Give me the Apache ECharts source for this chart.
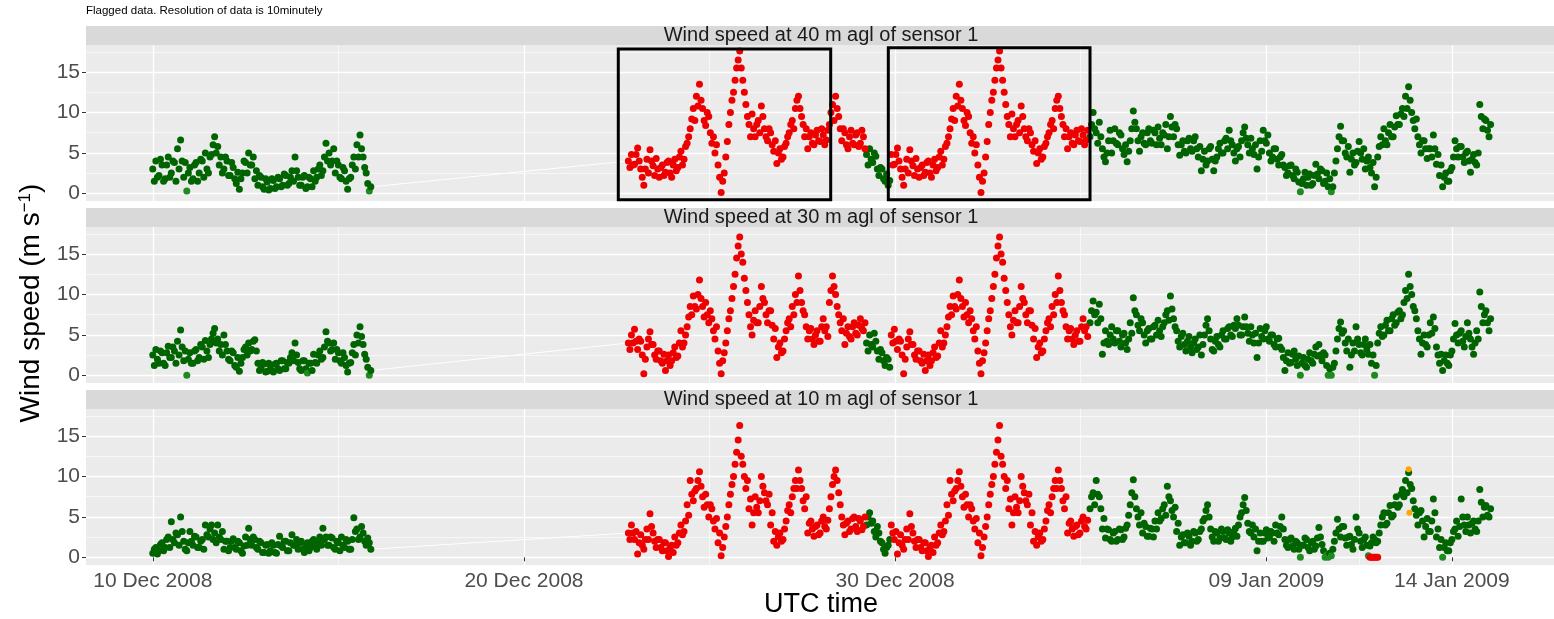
<!DOCTYPE html>
<html><head><meta charset="utf-8">
<script src="https://cdn.jsdelivr.net/npm/echarts@6/dist/echarts.min.js"></script>
<style>html,body{margin:0;padding:0;background:#fff}#c{width:1554px;height:619px}</style>
</head><body><div id="c"></div><script>
// ---------------- DATA ----------------
const chartNote = 'Flagged data. Resolution of data is 10minutely';
const panelTitles = ['Wind speed at 40 m agl of sensor 1','Wind speed at 30 m agl of sensor 1','Wind speed at 10 m agl of sensor 1'];
const xTitle = 'UTC time';
const xTickDates = ['2008-12-10 00:00','2008-12-20 00:00','2008-12-30 00:00','2009-01-09 00:00','2009-01-14 00:00'];
const xTickLabels = ['10 Dec 2008','20 Dec 2008','30 Dec 2008','09 Jan 2009','14 Jan 2009'];
const xMinorDates = ['2008-12-15 00:00','2008-12-25 00:00','2009-01-04 00:00','2009-01-11 12:00'];
const xRange = ['2008-12-08 04:50','2009-01-16 18:00'];
const yTicks = [0,5,10,15];
const yMinor = [2.5,7.5,12.5,17.5];
const yRange = [-0.95,18.35];
// each segment: "a" values at start + 2h*i, "b" values at start + 2h*i + 1h
const stepHours = 2;
const segAStart = '2008-12-10 00:00';
const redBlockStart = '2008-12-22 19:30';
const redExtraStart = '2008-12-28 05:30';
const greenMidStart = '2008-12-29 05:30';
const repeatOffsetDays = 7;
const greenEndStart = '2009-01-04 06:00';
// highlight boxes on the 40 m panel: [start, end, yLow, yHigh]
const boxes40 = [['2008-12-22 13:00','2008-12-28 06:20',-0.8,17.85],['2008-12-29 19:35','2009-01-04 06:00',-0.8,18.0]];

// 40 m
const segA40 = [3.0,4.0,2.2,3.5,1.8,4.5,2.5,3.8,5.5,6.6,2.0,0.3,3.2,1.8,3.8,2.5,4.0,5.0,2.5,4.8,7.0,5.8,4.5,3.0,4.0,2.2,3.2,1.2,0.5,2.5,3.8,5.0,3.5,1.8,1.0,2.0,0.5,1.4,0.6,1.6,0.8,1.8,1.0,2.2,1.2,2.8,4.5,2.0,1.0,2.2,0.8,1.8,2.8,2.0,3.5,2.8,6.2,5.0,4.0,2.5,3.5,1.8,2.8,0.5,2.0,4.5,6.0,7.2,4.5,2.5,0.3];
const segA40b = [1.5,2.0,4.2,1.5,3.5,2.0,4.0,1.5,3.0,4.0,3.8,2.5,1.5,3.5,1.5,4.2,2.0,3.0,4.5,6.0,5.0,3.5,2.5,4.5,2.2,3.8,1.8,2.6,1.8,4.0,2.5,3.5,4.5,2.8,2.2,0.8,1.8,0.4,1.8,0.6,2.0,0.8,2.4,1.0,2.0,1.5,2.8,1.0,2.0,0.6,2.0,0.8,1.5,3.0,2.2,4.5,4.0,3.5,5.5,4.0,2.0,3.2,1.5,1.8,3.5,3.0,4.5,5.5,3.2,1.2,0.8];
const redBlock40 = [4.0,4.8,3.6,5.6,3.0,1.0,4.2,5.4,3.4,4.3,2.0,3.5,2.6,4.0,2.0,4.2,3.2,5.2,4.2,6.2,8.0,10.5,12.0,13.5,10.5,8.4,9.5,6.2,5.0,3.5,0.1,2.5,6.4,10.0,12.5,15.5,17.6,14.0,11.0,8.5,9.8,7.0,9.0,10.8,8.0,6.5,7.5,5.2,3.7,5.5,4.5,6.2,7.5,9.0,10.5,12.0,9.5,7.0,5.5,7.5,6.0,7.8,6.4,7.2,6.6];
const redBlock40b = [3.2,3.5,4.8,4.0,2.0,3.0,2.5,4.0,2.2,3.0,3.2,2.2,3.8,2.5,3.5,2.8,4.5,3.5,5.8,7.0,9.2,9.0,10.8,11.5,9.0,10.0,7.5,7.0,6.0,2.0,1.5,4.5,8.5,11.5,14.0,16.5,15.5,12.5,9.5,7.0,8.0,8.5,7.5,9.5,7.0,8.0,6.0,6.5,5.0,4.2,5.8,7.0,8.5,8.0,11.5,10.5,8.5,8.0,7.0,6.2,7.2,6.5,8.0,6.0,7.8];
const redExtra40 = [8.5,11.0,12.0,9.5,6.5,7.5,5.5,7.8,6.0,7.5,6.2,7.0];
const redExtra40b = [10.0,9.0,10.5,8.0,8.0,6.0,7.0,6.2,7.2,5.8,7.8,5.5];
const greenMid40 = [4.8,5.5,3.8,4.6,2.2,3.0,1.5,1.0];
const greenMid40b = [3.5,4.2,5.0,3.0,3.2,1.8,2.4,1.6];
const greenEnd40 = [7.0,10.0,7.5,8.8,5.5,3.9,6.5,5.0,8.0,6.0,7.2,4.8,3.9,6.5,10.2,8.0,5.2,7.5,6.0,8.0,6.2,7.5,8.2,6.0,7.2,5.5,9.5,7.0,8.0,4.7,6.5,5.0,6.8,5.2,7.0,4.5,2.8,5.2,4.0,5.8,2.8,4.5,6.2,5.0,6.8,7.8,6.0,4.0,5.8,6.5,8.2,6.0,6.8,4.8,3.0,6.5,7.8,6.2,5.0,4.5,5.5,3.5,4.8,3.2,2.5,3.5,1.8,2.6,0.2,1.8,1.0,2.4,1.2,3.6,1.8,2.8,1.5,0.8,0.2,2.5,5.5,8.3,6.5,4.5,2.6,5.0,3.8,6.4,4.2,3.0,4.5,2.5,0.8,4.5,7.0,8.0,6.0,8.5,7.0,9.6,8.5,10.5,12.0,13.2,10.0,8.0,7.0,5.0,6.5,4.3,5.5,7.2,3.6,2.2,0.8,2.5,1.5,3.2,6.5,4.5,5.8,3.8,5.2,2.6,4.8,3.5,11.0,8.0,9.0,7.0];
const greenEnd40b = [8.5,8.0,6.2,7.0,4.5,5.0,7.8,6.5,6.2,7.5,5.5,6.0,5.2,8.0,8.8,6.5,7.0,6.2,7.5,6.5,7.8,6.0,6.8,7.5,8.5,7.0,8.2,8.5,6.0,6.0,5.2,6.5,5.5,6.5,5.5,5.8,4.2,3.5,5.5,4.2,4.0,5.5,5.0,6.5,5.5,6.5,5.0,5.5,4.5,7.5,6.8,5.0,5.5,6.0,4.5,5.2,6.5,7.2,4.0,5.5,4.2,4.5,3.5,2.2,3.4,2.2,3.0,1.4,1.2,2.6,2.0,1.0,2.2,2.4,3.0,1.2,2.5,1.8,0.8,4.0,7.0,6.5,5.0,5.8,4.2,3.5,5.2,5.0,5.5,4.0,3.2,3.8,2.0,5.8,6.0,6.5,7.5,7.0,8.2,8.5,9.8,9.5,10.5,11.5,9.0,9.2,6.0,6.5,5.5,5.5,4.5,5.5,4.8,3.5,2.0,1.5,2.8,4.5,5.5,5.8,4.5,5.0,4.0,4.2,3.8,5.0,9.5,9.2,7.8,8.5];

// 30 m
const segA30 = [2.5,3.2,1.5,2.8,1.2,3.6,2.2,3.0,4.2,5.6,1.8,0.0,2.8,1.5,3.2,2.2,3.5,4.3,2.2,4.5,5.8,4.5,3.8,5.0,3.0,1.8,2.8,1.0,0.5,2.2,3.5,4.0,3.2,4.4,1.5,0.8,1.4,0.5,1.2,0.4,1.5,0.6,1.8,0.8,1.5,2.8,4.0,1.6,0.6,1.8,0.3,1.5,2.6,1.5,3.0,2.2,5.4,4.0,3.2,2.0,2.8,1.5,2.2,0.4,1.6,3.8,5.0,6.0,3.8,2.0,0.0];
const segA30b = [1.2,2.0,3.0,1.5,2.8,2.2,3.5,1.5,2.5,3.5,3.0,2.0,1.5,3.0,1.8,3.8,2.0,3.0,3.8,5.2,4.0,3.0,2.5,3.8,2.0,3.0,1.2,2.2,1.5,3.2,2.5,3.0,4.2,3.0,0.6,1.6,0.4,1.5,0.6,1.4,0.8,1.8,0.8,1.6,2.2,1.8,2.5,0.8,1.8,0.8,1.5,0.6,1.6,2.5,2.0,3.5,4.2,3.0,4.0,3.2,1.8,2.8,1.2,1.5,2.8,2.5,4.0,4.8,2.6,1.0,0.6];
const redBlock30 = [4.0,5.0,5.7,3.2,4.2,0.2,3.5,5.4,3.8,2.0,3.0,1.5,0.6,2.5,1.8,3.5,2.4,5.5,4.0,6.0,8.5,9.8,8.2,11.8,8.5,9.0,6.5,7.0,4.5,3.0,0.2,2.8,5.5,8.0,11.0,14.5,17.1,14.0,10.5,7.5,5.0,8.0,6.5,11.0,9.0,6.5,8.0,4.5,2.2,4.0,3.0,5.5,7.0,8.5,10.0,12.3,9.0,7.5,4.5,5.8,3.8,5.5,4.2,7.0,6.0];
const redBlock30b = [3.2,4.0,4.2,4.5,2.5,2.0,4.5,3.8,2.5,3.0,1.8,2.6,1.8,1.2,2.8,2.2,4.0,3.5,5.0,7.2,7.5,8.5,10.0,9.5,7.2,7.5,8.0,5.5,6.0,1.5,1.8,4.0,7.0,9.5,12.5,16.0,15.0,12.0,9.0,6.0,6.8,6.5,8.5,9.5,7.5,8.0,6.2,5.8,3.5,2.8,4.5,6.5,6.0,7.5,9.0,10.5,8.0,6.0,5.5,4.5,5.0,4.2,6.0,5.5,4.8];
const redExtra30 = [9.0,12.3,10.0,7.5,5.5,3.8,6.0,4.5,6.5,5.0,7.0,5.5];
const redExtra30b = [10.5,11.0,8.5,6.5,7.0,5.2,4.8,6.0,5.2,6.2,5.8,6.5];
const greenMid30 = [4.0,5.0,3.5,4.2,2.0,2.8,1.2,2.0];
const greenMid30b = [3.0,3.8,5.2,3.0,3.2,1.8,2.2,1.0];
const greenEnd30 = [6.5,9.2,7.8,8.8,2.6,5.5,3.8,6.0,4.0,5.5,3.5,5.2,3.2,6.5,9.6,7.5,5.5,6.5,4.0,5.8,4.5,6.2,6.8,4.8,6.5,8.0,9.8,7.0,5.5,3.5,5.2,3.0,4.8,2.8,4.5,3.5,2.5,5.0,7.0,4.5,3.0,4.8,3.5,5.5,4.5,6.0,4.8,5.8,6.2,5.0,7.2,5.2,6.0,4.0,2.2,5.8,4.5,6.0,4.2,5.0,3.5,4.6,3.2,0.6,2.8,1.6,3.0,1.2,0.0,2.2,1.0,2.8,1.5,3.5,3.8,1.8,2.5,0.0,0.0,1.5,4.5,6.6,5.5,3.0,1.0,4.0,6.0,3.8,2.5,4.5,2.6,1.5,0.0,4.0,6.0,5.0,6.8,5.5,7.5,6.5,8.0,7.5,10.5,12.5,10.0,8.0,5.5,2.6,5.0,3.5,6.5,7.2,3.5,1.5,0.6,2.5,1.2,3.0,6.4,4.0,5.5,3.5,6.5,4.5,2.6,5.5,10.3,6.5,8.0,5.5];
const greenEnd30b = [8.0,7.5,6.5,7.0,4.0,4.2,5.0,4.5,5.5,4.2,5.0,4.0,4.5,5.2,8.0,6.2,7.0,5.0,5.5,4.5,6.0,5.0,5.5,6.0,7.5,6.8,8.2,6.0,4.2,4.8,3.8,4.2,3.5,4.0,3.2,5.0,3.8,6.2,5.5,3.2,4.2,3.8,5.0,4.5,5.8,5.0,6.2,7.0,5.0,6.0,6.0,4.2,5.0,5.2,4.0,4.8,5.5,4.5,5.0,3.8,4.5,3.5,2.2,1.8,1.5,2.6,2.0,2.4,1.5,1.2,2.0,1.8,2.6,2.4,2.5,2.8,1.2,0.8,1.0,3.0,5.8,5.2,4.0,4.5,2.5,3.0,4.5,2.8,3.8,3.2,3.8,2.5,1.2,5.2,4.8,6.2,5.5,7.0,6.2,7.8,7.0,9.0,9.5,11.0,8.5,7.0,4.5,4.0,3.8,5.0,5.2,5.8,2.5,2.6,1.8,1.5,2.5,4.5,5.0,5.2,4.2,4.8,5.2,3.5,4.0,4.5,8.5,7.5,6.5,7.0];

// 10 m
const segA10 = [0.5,1.2,0.8,1.8,1.2,2.5,4.4,1.8,2.8,5.0,2.0,0.8,3.2,1.5,2.5,1.2,2.2,4.0,2.5,4.0,3.0,4.0,2.2,1.0,2.0,1.2,2.3,1.0,1.8,0.5,2.5,3.6,1.5,2.2,1.0,1.8,0.6,1.6,0.8,1.5,0.5,2.6,1.2,2.0,0.8,2.8,1.5,1.0,2.0,0.6,1.8,1.2,2.2,1.0,2.5,3.6,2.5,1.5,2.4,1.0,1.8,2.5,1.2,2.0,1.0,4.9,3.5,2.5,3.0,1.5,1.8];
const segA10b = [1.0,0.4,1.6,0.8,2.2,1.2,2.2,3.0,1.5,3.2,1.0,1.8,2.0,2.6,1.2,2.0,1.0,2.8,3.5,2.2,1.8,2.5,3.2,2.0,0.8,2.0,1.2,2.0,0.8,1.4,1.5,2.2,2.5,1.2,2.0,0.6,1.5,0.5,1.8,0.6,1.6,1.4,2.0,0.8,1.8,1.5,2.2,1.8,1.0,1.5,0.8,2.0,1.4,2.0,1.5,2.2,1.5,2.5,1.2,2.0,0.8,1.5,2.2,1.0,2.2,3.2,2.2,3.8,2.0,2.4,1.0];
const redBlock10 = [3.0,4.0,2.2,0.4,2.8,1.0,3.5,5.4,3.0,1.2,2.2,0.8,1.8,0.1,1.5,2.5,1.8,4.0,3.2,6.5,9.5,7.0,8.5,10.6,7.5,7.8,5.0,6.0,3.5,1.8,0.2,2.5,5.0,7.8,10.0,13.0,16.3,11.5,8.5,6.0,4.0,7.5,5.5,10.0,8.0,6.5,4.0,2.0,1.5,3.0,2.2,4.5,6.5,7.5,9.5,10.8,8.5,6.0,3.0,4.5,2.6,4.0,3.0,5.0,3.5];
const redBlock10b = [2.2,3.0,3.2,1.8,1.5,2.2,2.2,3.8,2.0,2.2,1.2,1.8,0.8,1.2,0.6,1.5,3.0,2.8,4.5,5.2,7.8,8.2,9.5,8.8,6.2,6.5,6.5,4.5,4.8,3.0,1.2,3.8,6.5,9.0,11.5,14.5,12.5,10.0,9.5,7.2,5.5,6.2,7.0,8.8,7.0,7.8,5.5,3.2,2.5,2.0,3.5,5.8,5.5,8.5,8.5,9.5,7.0,7.5,4.2,3.5,3.8,2.8,4.5,3.8,4.6];
const redExtra10 = [6.0,9.0,10.8,8.0,5.0,2.8,4.5,3.5,5.0,3.2,4.5,3.8];
const redExtra10b = [7.5,10.0,9.5,6.5,4.0,4.2,3.2,4.8,3.8,4.8,3.4,5.0];
const greenMid10 = [4.0,5.5,4.5,2.5,3.0,1.8,0.5,1.5];
const greenMid10b = [5.0,4.2,3.2,3.8,2.0,1.0,1.2,2.2];
const greenEnd10 = [6.0,8.0,9.5,7.5,3.5,2.4,3.4,2.0,3.2,2.2,3.4,2.5,4.0,6.5,9.6,6.0,4.0,3.0,3.8,2.6,3.5,4.5,5.5,4.8,6.5,8.8,7.0,5.0,3.2,1.5,2.8,1.8,2.6,2.0,3.0,2.2,3.5,4.8,6.5,3.5,2.0,3.0,2.4,3.2,2.2,3.0,2.5,3.6,4.0,5.5,7.4,4.2,3.0,2.5,0.8,3.0,2.0,3.4,2.5,3.0,4.0,2.8,5.0,2.2,1.2,2.4,1.0,1.8,0.0,1.5,2.2,0.8,2.0,1.4,3.7,1.6,0.0,0.0,0.2,2.0,4.7,2.5,3.8,1.5,2.6,1.0,5.0,3.0,1.2,2.5,0.2,1.8,2.2,2.0,4.0,5.5,4.2,6.4,5.2,7.5,6.5,8.4,9.5,10.5,8.5,6.0,4.0,5.8,2.5,4.8,3.2,7.2,2.5,1.2,0.0,1.8,0.8,2.2,3.5,2.6,7.2,4.0,5.0,3.0,4.5,3.2,8.4,5.0,6.4,5.0];
const greenEnd10b = [7.5,6.5,7.8,6.0,4.8,3.5,2.2,3.0,2.0,3.5,2.2,3.6,5.2,8.0,7.5,5.0,5.5,4.2,2.6,3.6,2.5,3.5,4.5,6.0,5.2,7.5,5.8,6.2,4.2,2.5,1.8,3.0,1.5,3.2,2.0,3.2,4.5,5.8,5.0,2.5,3.2,2.0,3.5,2.4,3.4,2.0,3.2,2.6,5.0,6.5,5.8,3.2,4.0,3.5,2.0,2.0,3.0,2.4,3.2,2.0,3.0,3.8,3.5,1.5,2.2,1.4,2.0,1.0,1.5,2.4,1.2,1.8,1.0,2.4,2.5,0.8,0.3,0.5,1.0,3.0,3.5,3.8,2.4,2.5,1.6,2.2,3.5,2.0,2.2,1.5,1.4,2.5,1.8,3.0,5.0,4.0,5.5,5.0,6.5,6.2,7.8,7.5,8.0,9.0,7.0,5.2,5.5,4.5,3.8,3.2,4.5,5.5,3.5,2.2,1.2,0.8,1.8,3.2,4.5,3.8,5.0,3.2,4.0,4.2,3.5,4.5,6.8,6.2,5.2,6.0];
const redFlag10Times = ['2009-01-11 19:00','2009-01-11 20:00','2009-01-11 21:00','2009-01-11 22:00','2009-01-11 23:00','2009-01-12 00:00'];
const redFlag10Values = [0,0,0,0,0,0];
const orange10Times = ['2009-01-12 20:00','2009-01-12 20:30'];
const orange10Values = [10.9,5.5];

// ---------------- BUILD ----------------
const T = s => { const [d,h] = s.split(' '); const [Y,M,D] = d.split('-').map(Number); const [hh,mm] = h.split(':').map(Number); return Date.UTC(Y,M-1,D,hh,mm); };
const HR = 3600000;
const seg = (start, a, b, shiftDays) => {
  const t0 = T(start) + (shiftDays || 0) * 24 * HR, out = [];
  a.forEach((v, i) => { out.push([t0 + i*stepHours*HR, v]); out.push([t0 + i*stepHours*HR + HR, b[i]]); });
  return out;
};
const pairs = (ts, vs) => ts.map((t,i) => [T(t), vs[i]]);

const panels = [
  {segA: [segA40, segA40b], red: [redBlock40, redBlock40b], extra: [redExtra40, redExtra40b], mid: [greenMid40, greenMid40b], end: [greenEnd40, greenEnd40b], redFlag: [], orange: [], boxes: boxes40},
  {segA: [segA30, segA30b], red: [redBlock30, redBlock30b], extra: [redExtra30, redExtra30b], mid: [greenMid30, greenMid30b], end: [greenEnd30, greenEnd30b], redFlag: [], orange: [], boxes: []},
  {segA: [segA10, segA10b], red: [redBlock10, redBlock10b], extra: [redExtra10, redExtra10b], mid: [greenMid10, greenMid10b], end: [greenEnd10, greenEnd10b], redFlag: pairs(redFlag10Times, redFlag10Values), orange: pairs(orange10Times, orange10Values), boxes: []}
];

const FONT = 'Liberation Sans, Arial, sans-serif';
const W = 1554, LEFT = 86, TOP0 = 45, PH = 156, PSTEP = 182, DOT = 7;
const xTicks = xTickDates.map(T), xMinor = xMinorDates.map(T);
const xMin = T(xRange[0]), xMax = T(xRange[1]);

const grids = [], xAxes = [], yAxes = [], series = [], graphics = [];
panels.forEach((p, k) => {
  grids.push({left: LEFT, right: 0, top: TOP0 + k*PSTEP, height: PH, show: true, backgroundColor: '#EBEBEB', borderWidth: 0});
  const bottom = k === 2;
  xAxes[k] = {type: 'value', gridIndex: k, min: xMin, max: xMax,
    axisLine: {show: false},
    axisTick: {show: bottom, customValues: xTicks, length: 4, lineStyle: {color: '#333', width: 1}},
    axisLabel: {show: bottom, customValues: xTicks, margin: 6, fontSize: 21, color: '#4D4D4D', fontFamily: FONT,
      formatter: v => { const i = xTicks.indexOf(v); return i >= 0 ? xTickLabels[i] : ''; }},
    splitLine: {show: true, customValues: xTicks, lineStyle: {color: '#fff', width: 1.3}}};
  xAxes[3+k] = {type: 'value', gridIndex: k, min: xMin, max: xMax, axisLine: {show: false},
    axisTick: {show: false, customValues: xMinor}, axisLabel: {show: false, customValues: xMinor},
    splitLine: {show: true, customValues: xMinor, lineStyle: {color: '#fff', width: 0.6}}};
  yAxes[k] = {type: 'value', gridIndex: k, min: yRange[0], max: yRange[1],
    axisLine: {show: false},
    axisTick: {show: true, customValues: yTicks, length: 4, lineStyle: {color: '#333', width: 1}},
    axisLabel: {customValues: yTicks, margin: 6, fontSize: 21, color: '#4D4D4D', fontFamily: FONT},
    splitLine: {show: true, customValues: yTicks, lineStyle: {color: '#fff', width: 1.3}}};
  yAxes[3+k] = {type: 'value', gridIndex: k, min: yRange[0], max: yRange[1], axisLine: {show: false},
    axisTick: {show: false, customValues: yMinor}, axisLabel: {show: false, customValues: yMinor},
    splitLine: {show: true, customValues: yMinor, lineStyle: {color: '#fff', width: 0.6}}};

  const segAData = seg(segAStart, p.segA[0], p.segA[1]);
  const red1 = seg(redBlockStart, p.red[0], p.red[1]);
  const red2 = seg(redBlockStart, p.red[0], p.red[1], repeatOffsetDays).slice(2);
  const extra = seg(redExtraStart, p.extra[0], p.extra[1]);
  const mid = seg(greenMidStart, p.mid[0], p.mid[1]);
  const end = seg(greenEndStart, p.end[0], p.end[1]);
  const greenData = segAData.concat(mid, end);
  const redData = red1.concat(extra, red2, p.redFlag);

  series.push({type: 'scatter', xAxisIndex: k, yAxisIndex: k, data: greenData, symbolSize: DOT, z: 3,
    itemStyle: {color: q => q.value[1] <= 0.3 ? '#1f8a1f' : '#006400', opacity: 1}});
  series.push({type: 'scatter', xAxisIndex: k, yAxisIndex: k, data: redData, symbolSize: DOT, z: 3,
    itemStyle: {color: '#EE0000', opacity: 1}});
  if (p.orange.length) series.push({type: 'scatter', xAxisIndex: k, yAxisIndex: k, data: p.orange, symbolSize: 6, z: 4,
    itemStyle: {color: '#FFA500', opacity: 1}});
  const gap = {type: 'line', xAxisIndex: k, yAxisIndex: k, data: [segAData[segAData.length-1], red1[0]],
    showSymbol: false, symbol: 'none', lineStyle: {color: '#fff', width: 1}, z: 2, silent: true};
  if (p.boxes.length) {
    gap.markArea = {silent: true, z: 10, label: {show: false},
      itemStyle: {color: 'rgba(0,0,0,0)', borderColor: '#000', borderWidth: 3},
      data: p.boxes.map(b => [{xAxis: T(b[0]), yAxis: b[2]}, {xAxis: T(b[1]), yAxis: b[3]}])};
  }
  series.push(gap);

  graphics.push({type: 'rect', left: LEFT, top: TOP0 + k*PSTEP - 19, shape: {width: W - LEFT, height: 19}, style: {fill: '#D9D9D9'}, z: 0});
  graphics.push({type: 'text', x: 821, y: TOP0 + k*PSTEP - 9.5, z: 5,
    style: {text: panelTitles[k], fill: '#1A1A1A', font: '20px ' + FONT, align: 'center', verticalAlign: 'middle'}});
});

graphics.push({type: 'text', x: 86, y: 11, style: {text: chartNote, fill: '#000', font: '11.5px ' + FONT, align: 'left', verticalAlign: 'middle'}});
graphics.push({type: 'text', x: 821, y: 605, style: {text: xTitle, fill: '#000', font: '27px ' + FONT, align: 'center', verticalAlign: 'middle'}});
graphics.push({type: 'text', x: 31, y: 303, rotation: Math.PI/2,
  style: {text: '{a|Wind speed (m s}{b|\u22121}{a|)}', align: 'center', verticalAlign: 'middle', fill: '#000',
    rich: {a: {fontSize: 28, fontFamily: FONT, fill: '#000', color: '#000'}, b: {fontSize: 17, fontFamily: FONT, verticalAlign: 'top', fill: '#000', color: '#000'}}}});

const chart = echarts.init(document.getElementById('c'), null, {renderer: 'canvas'});
chart.setOption({animation: false, grid: grids, xAxis: xAxes, yAxis: yAxes, series: series, graphic: {elements: graphics}});
</script></body></html>
